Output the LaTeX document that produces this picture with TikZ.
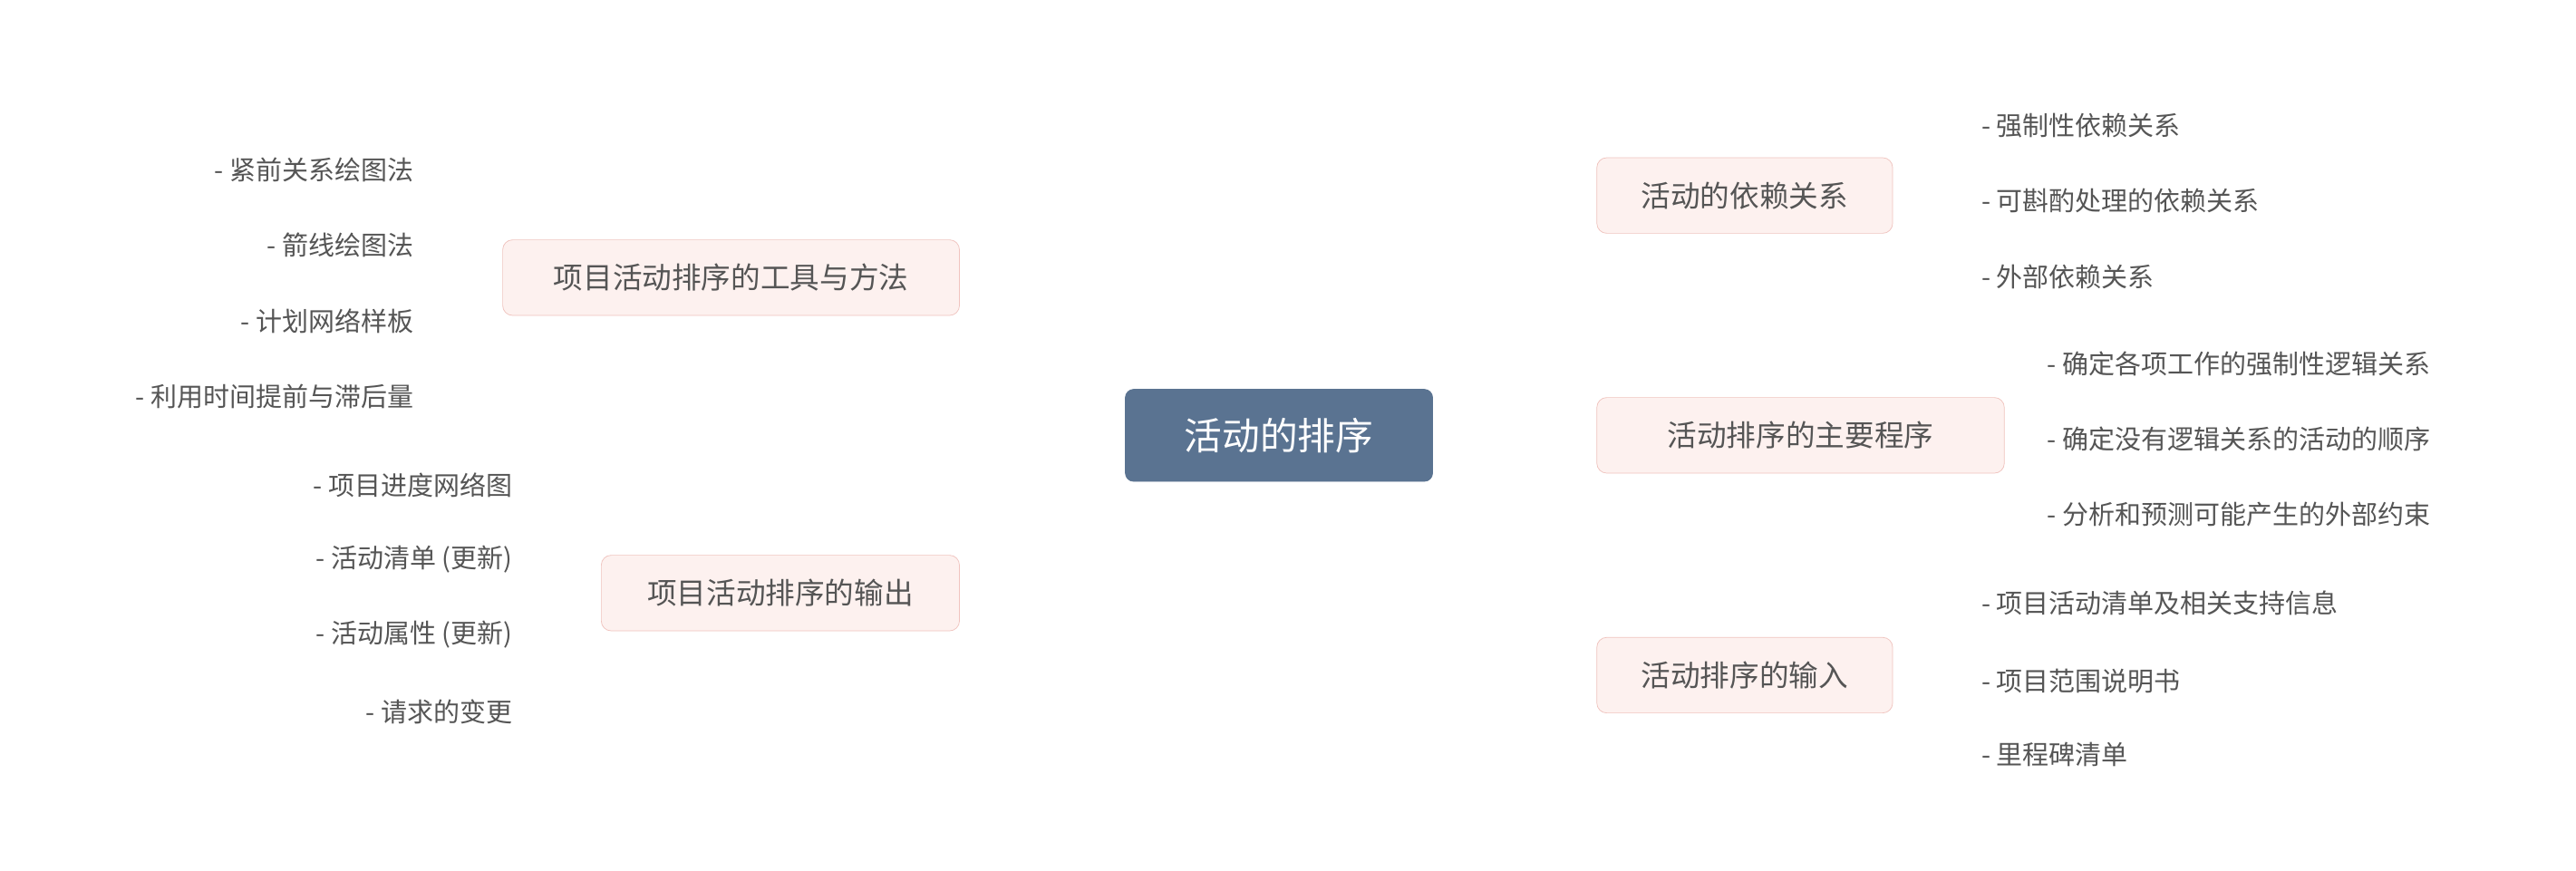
\documentclass[tikz,border=0pt]{standalone}
\usepackage{fontspec}
\newfontfamily\cjk{Noto Sans CJK SC}
\usetikzlibrary{backgrounds}
\definecolor{ln}{HTML}{A2B9D1}
\definecolor{txt}{HTML}{555555}
\definecolor{cen}{HTML}{5A7391}
\definecolor{bfill}{HTML}{FDF1EF}
\definecolor{bdraw}{HTML}{F0C3BE}
\tikzset{
 root/.style={draw=cen,fill=cen,rounded corners=5pt,text=white,font=\cjk\fontsize{23}{26}\selectfont,minimum width=187pt,minimum height=56pt},
 branch/.style={draw=bdraw,fill=bfill,rounded corners=6pt,text=txt,font=\cjk\fontsize{18}{22}\selectfont,minimum height=46pt,inner xsep=10pt},
 leaf/.style={text=txt,font=\cjk\fontsize{16}{20}\selectfont,inner xsep=8pt,inner ysep=5pt},
 con/.style={draw=ln,line width=1.6pt},
 br/.style={draw=ln,line width=1.6pt,rounded corners=9pt}
}
\begin{document}
\begin{tikzpicture}[x=1pt,y=-1pt]
\useasboundingbox[fill=white] (0,0) rectangle (1568,530);
\node[root] (c) at (778.5,265) {活动的排序};
\node[branch,minimum width=180pt] (r1) at (1062,119) {活动的依赖关系};
\node[branch,minimum width=248pt] (r2) at (1096,265) {活动排序的主要程序};
\node[branch,minimum width=180pt] (r3) at (1062,411) {活动排序的输入};
\node[branch,minimum width=278pt] (l1) at (445,169) {项目活动排序的工具与方法};
\node[branch,minimum width=218pt] (l2) at (475,361) {项目活动排序的输出};
% right leaves
\node[leaf,anchor=south west] (a1) at (1198,89) {- 强制性依赖关系};
\node[leaf,anchor=south west] (a2) at (1198,135) {- 可斟酌处理的依赖关系};
\node[leaf,anchor=south west] (a3) at (1198,181) {- 外部依赖关系};
\node[leaf,anchor=south west] (b1) at (1238,234) {- 确定各项工作的强制性逻辑关系};
\node[leaf,anchor=south west] (b2) at (1238,280) {- 确定没有逻辑关系的活动的顺序};
\node[leaf,anchor=south west] (b3) at (1238,326) {- 分析和预测可能产生的外部约束};
\node[leaf,anchor=south west] (d1) at (1198,380) {- 项目活动清单及相关支持信息};
\node[leaf,anchor=south west] (d2) at (1198,427) {- 项目范围说明书};
\node[leaf,anchor=south west] (d3) at (1198,472) {- 里程碑清单};
% left leaves
\node[leaf,anchor=south east] (e1) at (260,116) {- 紧前关系绘图法};
\node[leaf,anchor=south east] (e2) at (260,162) {- 箭线绘图法};
\node[leaf,anchor=south east] (e3) at (260,208) {- 计划网络样板};
\node[leaf,anchor=south east] (e4) at (260,254) {- 利用时间提前与滞后量};
\node[leaf,anchor=south east] (f1) at (320,308) {- 项目进度网络图};
\node[leaf,anchor=south east] (f2) at (320,354) {- 活动清单 (更新)};
\node[leaf,anchor=south east] (f3) at (320,400) {- 活动属性 (更新)};
\node[leaf,anchor=south east] (f4) at (320,446) {- 请求的变更};
\begin{scope}[on background layer]
\draw[con] (783,238) .. controls (805,170) and (880,119) .. (r1.west);
\draw[con] (c.east) -- (r2.west);
\draw[con] (783,292) .. controls (805,360) and (880,411) .. (r3.west);
\draw[con] (770,238) .. controls (745,185) and (670,169) .. (l1.east);
\draw[con] (770,292) .. controls (745,345) and (670,361) .. (l2.east);
\draw[con] (r1.east) -- (1178,119);
\foreach \n in {a1,a2,a3} \draw[br] (1178,119) |- (\n.south east);
\draw[con] (r2.east) -- (1218,265);
\foreach \n in {b1,b2,b3} \draw[br] (1218,265) |- (\n.south east);
\draw[con] (r3.east) -- (1178,411);
\foreach \n in {d1,d2,d3} \draw[br] (1178,411) |- (\n.south east);
\draw[con] (l1.west) -- (280,169);
\foreach \n in {e1,e2,e3,e4} \draw[br] (280,169) |- (\n.south west);
\draw[con] (l2.west) -- (340,361);
\foreach \n in {f1,f2,f3,f4} \draw[br] (340,361) |- (\n.south west);
\end{scope}
\end{tikzpicture}
\end{document}
